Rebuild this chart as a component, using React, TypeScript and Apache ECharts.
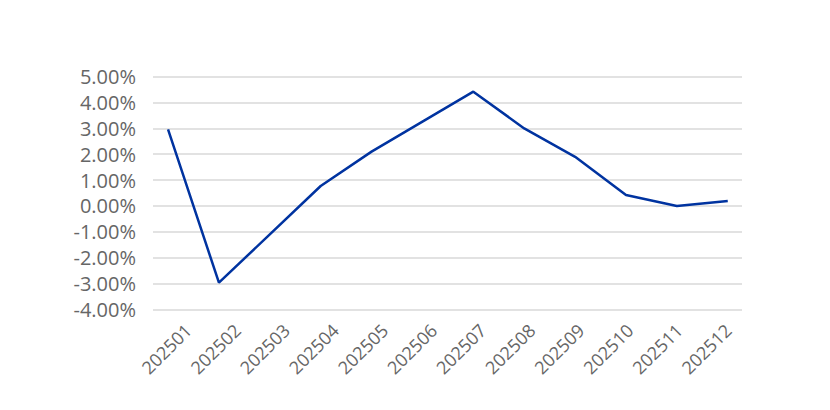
import React, { useEffect, useRef } from "react";
import * as echarts from "echarts";

const categories = ["202501", "202502", "202503", "202504", "202505", "202506", "202507", "202508", "202509", "202510", "202511", "202512"];
const values = [2.96, -2.97, -1.1, 0.77, 2.1, 3.26, 4.42, 3.0, 1.9, 0.42, 0.0, 0.19];
const yMin = -4;
const yMax = 5;
const yInterval = 1;

const FONT = "'Open Sans', Lato, sans-serif";

export default function App() {
  const ref = useRef<HTMLDivElement>(null);
  useEffect(() => {
    if (!ref.current) return;
    const chart = echarts.init(ref.current, undefined, { renderer: "svg" });
    const top = 76.7;
    const height = 232.6;
    chart.setOption({
      animation: false,
      backgroundColor: "#ffffff",
      textStyle: { fontFamily: FONT },
      grid: [
        { left: 153, right: 88, top, height },
        { left: 142.6, right: 76.8, top, height },
        { left: 141.8, right: 99.2, top, height },
      ],
      xAxis: [
        {
          gridIndex: 0,
          type: "category",
          data: categories,
          show: false,
        },
        {
          gridIndex: 1,
          type: "category",
          data: categories,
          boundaryGap: true,
          show: false,
        },
        {
          gridIndex: 2,
          type: "category",
          data: categories,
          boundaryGap: true,
          axisLine: { show: false },
          axisTick: { show: false },
          axisLabel: {
            rotate: 45,
            align: "center",
            verticalAlign: "middle",
            margin: 39.5,
            fontSize: 18,
            color: "#666666",
            fontFamily: FONT,
            interval: 0,
          },
        },
      ],
      yAxis: [
        {
          gridIndex: 0,
          type: "value",
          min: yMin,
          max: yMax,
          interval: yInterval,
          axisLine: { show: false },
          axisTick: { show: false },
          splitLine: { lineStyle: { color: "#d9d9d9", width: 1.5 } },
          axisLabel: {
            margin: 17,
            fontSize: 20,
            color: "#666666",
            fontFamily: FONT,
            formatter: (v: number) => v.toFixed(2) + "%",
          },
        },
        {
          gridIndex: 1,
          type: "value",
          min: yMin,
          max: yMax,
          interval: yInterval,
          show: false,
          splitLine: { show: false },
        },
        {
          gridIndex: 2,
          type: "value",
          min: yMin,
          max: yMax,
          interval: yInterval,
          show: false,
          splitLine: { show: false },
        },
      ],
      series: [
        {
          type: "line",
          xAxisIndex: 1,
          yAxisIndex: 1,
          data: values,
          symbol: "none",
          lineStyle: { color: "#0033A0", width: 2.5 },
        },
      ],
    });
    return () => chart.dispose();
  }, []);
  return (
    <div
      ref={ref}
      style={{ position: "fixed", left: 0, top: 0, width: 830, height: 410 }}
    />
  );
}
